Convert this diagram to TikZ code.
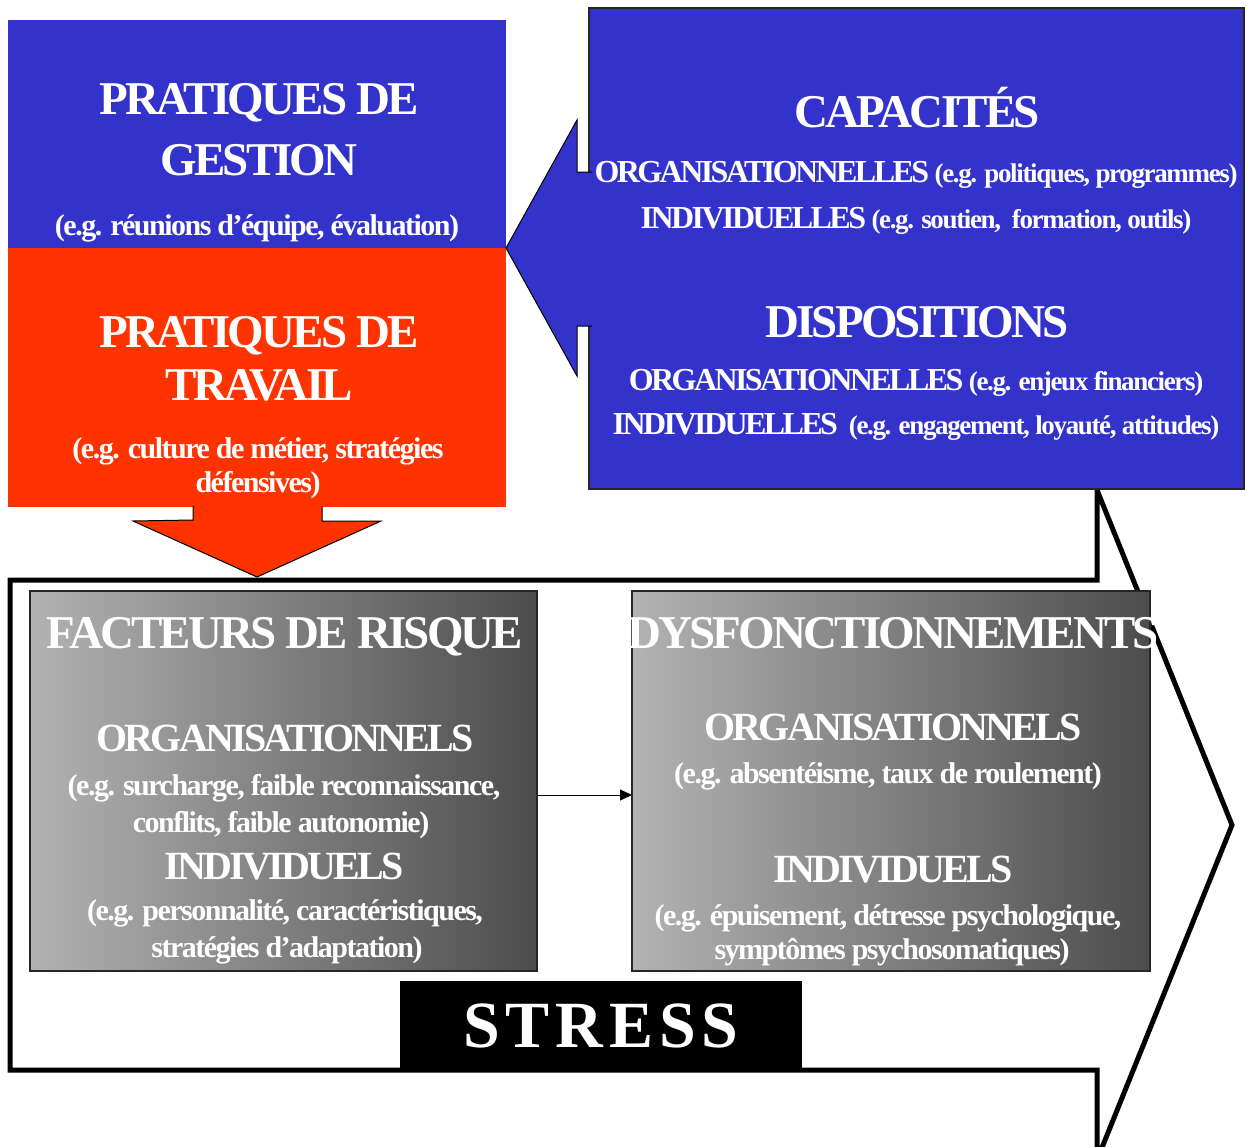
\documentclass[tikz,border=0pt]{standalone}
\usepackage{fontspec}
\setmainfont{Liberation Serif}
\newfontfamily\titlefont{Liberation Serif}[LetterSpace=-6]
\newfontfamily\capsfont{Liberation Serif}[LetterSpace=-7]
\newfontfamily\rcapsfont{Liberation Serif}[LetterSpace=-8]
\newfontfamily\notefont{Liberation Serif}[LetterSpace=-5]
\newfontfamily\stressfont{Liberation Serif}[LetterSpace=9]
\usetikzlibrary{arrows.meta, positioning, calc}

\definecolor{gestblue}{RGB}{51, 51, 204}
\definecolor{travred}{RGB}{255, 51, 0}

\newcommand{\bigtitle}{\titlefont\bfseries\fontsize{47}{50}\selectfont}
\newcommand{\midcaps}{\capsfont\bfseries\fontsize{40}{44}\selectfont}
\newcommand{\rcaps}{\rcapsfont\bfseries\fontsize{32}{36}\selectfont}
\newcommand{\notetext}{\notefont\bfseries\fontsize{30}{34}\selectfont}
\newcommand{\rnote}{\notefont\bfseries\fontsize{27}{30}\selectfont}

\tikzset{
  txt/.style={text=white, inner sep=0pt, anchor=base},
  plainbox/.style={inner sep=0pt, outer sep=0pt, anchor=north west},
  graybox/.style={plainbox, draw=black!85, line width=1.2pt, left color=black!30, right color=black!70},
  blockarrow/.style={draw=black, line width=1pt, line join=miter},
}

\begin{document}
\begin{tikzpicture}[x=1pt, y=-1pt]
  \clip (0,0) rectangle (1247,1146);

  % big STRESS arrow (background)
  \draw[line width=5pt, fill=white, line join=miter]
    (10,580) -- (1097,580) -- (1097,490) -- (1232,825) -- (1097,1160) -- (1097,1070) -- (10,1070) -- cycle;

  % left column
  \node[plainbox, fill=gestblue, minimum width=498, minimum height=228] (gestion) at (8,20) {};
  \node[plainbox, fill=travred, minimum width=498, minimum height=259] (travail) at (8,248) {};

  % red arrow down
  \filldraw[blockarrow, fill=travred]
    ($(travail.south)+(-64,-1)$) -- ++(0,14) -- ($(travail.south)+(-124,14)$)
    -- (257,577) -- ($(travail.south)+(124,14)$) -- ($(travail.south)+(65,14)$) -- ($(travail.south)+(65,-1)$);

  % right blue box with its arrow
  \node[plainbox, fill=gestblue, draw=black!85, line width=1.2pt, minimum width=655, minimum height=481] (capa) at (589,8) {};
  \filldraw[blockarrow, fill=gestblue]
    (592,172) -- (577,172) -- (577,120) -- (gestion.south east) -- (577,376) -- (577,326) -- (592,326);

  % gray boxes
  \node[graybox, minimum width=507, minimum height=380] (risque) at (30,591) {};
  \node[graybox, minimum width=518, minimum height=380] (dysf) at (632,591) {};
  \draw[line width=1pt, -{Triangle[length=12pt, width=11pt]}] ([yshift=-14pt]risque.east) -- ([yshift=-14pt]dysf.west);

  % STRESS label
  \node[plainbox, fill=black, minimum width=402, minimum height=90, text=white,
        font=\stressfont\bfseries\fontsize{66}{70}\selectfont] (stress) at (400,981) {STRESS};

  % texts, left column
  \node[txt, font=\bigtitle] (g1) at (259,114) {PRATIQUES DE};
  \node[txt, font=\bigtitle] (g2) at (259,175) {GESTION};
  \node[txt, font=\notetext] (g3) at (257,235) {(e.g. réunions d’équipe, évaluation)};
  \node[txt, font=\bigtitle] (t1) at (259,347) {PRATIQUES DE};
  \node[txt, font=\bigtitle] (t2) at (259,400) {TRAVAIL};
  \node[txt, font=\notetext] (t3) at (258,458) {(e.g. culture de métier, stratégies};
  \node[txt, font=\notetext] (t4) at (258,492) {défensives)};

  % texts, right box
  \node[txt, font=\bigtitle] (c1) at (917,127) {CAPACITÉS};
  \node[txt] (c2) at (916,182) {\rcaps ORGANISATIONNELLES \rnote(e.g. politiques, programmes)};
  \node[txt] (c3) at (916,228) {\rcaps INDIVIDUELLES \rnote(e.g. soutien,~ formation, outils)};
  \node[txt, font=\bigtitle] (d1) at (917,337) {DISPOSITIONS};
  \node[txt] (d2) at (916,390) {\rcaps ORGANISATIONNELLES \rnote(e.g. enjeux financiers)};
  \node[txt] (d3) at (916,434) {\rcaps INDIVIDUELLES~ \rnote(e.g. engagement, loyauté, attitudes)};

  % texts, risk factors
  \node[txt, font=\bigtitle] (r1) at (285,648) {FACTEURS DE RISQUE};
  \node[txt, font=\midcaps] (r2) at (285,751) {ORGANISATIONNELS};
  \node[txt, font=\notetext] (r3) at (284,795) {(e.g. surcharge, faible reconnaissance,};
  \node[txt, font=\notetext] (r4) at (281,832) {conflits, faible autonomie)};
  \node[txt, font=\midcaps] (r5) at (284,879) {INDIVIDUELS};
  \node[txt, font=\notetext] (r6) at (285,920) {(e.g. personnalité, caractéristiques,};
  \node[txt, font=\notetext] (r7) at (287,957) {stratégies d’adaptation)};

  % texts, dysfunctions
  \node[txt, font=\bigtitle] (f1) at (893,648) {DYSFONCTIONNEMENTS};
  \node[txt, font=\midcaps] (f2) at (893,740) {ORGANISATIONNELS};
  \node[txt, font=\notetext] (f3) at (888,783) {(e.g. absentéisme, taux de roulement)};
  \node[txt, font=\midcaps] (f4) at (893,882) {INDIVIDUELS};
  \node[txt, font=\notetext] (f5) at (888,925) {(e.g. épuisement, détresse psychologique,};
  \node[txt, font=\notetext] (f6) at (892,959) {symptômes psychosomatiques)};
\end{tikzpicture}
\end{document}
